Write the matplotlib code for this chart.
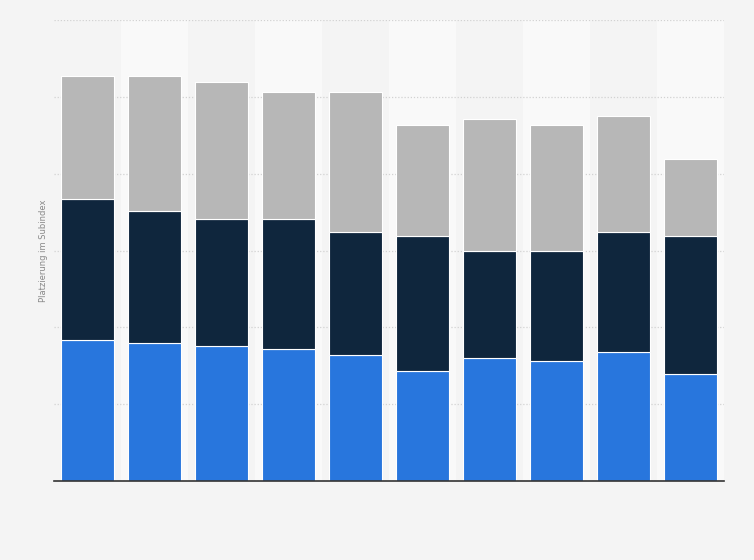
import matplotlib.pyplot as plt
import numpy as np

# keine Beschriftungen im Bild sichtbar, daher nur Platzhalter
categories = ["1", "2", "3", "4", "5", "6", "7", "8", "9", "10"]
blue = [36.6, 35.8, 35.1, 34.3, 32.7, 28.6, 31.9, 31.2, 33.5, 27.8]
navy = [36.9, 34.6, 33.0, 33.8, 32.0, 35.3, 28.1, 28.8, 31.2, 36.1]
gray = [31.9, 35.0, 35.7, 33.1, 36.5, 28.8, 34.2, 32.7, 30.3, 19.9]
yticks = [0, 20, 40, 60, 80, 100, 120]

fig = plt.figure(figsize=(7.54, 5.6), dpi=100)
fig.patch.set_facecolor("#f4f4f4")
ax = fig.add_axes([54/754, 79/560, 670/754, 461/560])
ax.set_facecolor("#f4f4f4")

x = np.arange(len(categories))
# helle Streifen hinter jeder zweiten Kategorie
for i in x:
    if i % 2 == 1:
        ax.axvspan(i - 0.5, i + 0.5, color="#f9f9f9", zorder=0, lw=0)

b = np.array(blue)
n = np.array(navy)
g = np.array(gray)
w = 0.78
ax.bar(x, b, w, color="#2876dd", edgecolor="white", linewidth=0.8, zorder=3)
ax.bar(x, n, w, bottom=b, color="#0f263d", edgecolor="white", linewidth=0.8, zorder=3)
ax.bar(x, g, w, bottom=b + n, color="#b7b7b7", edgecolor="white", linewidth=0.8, zorder=3)

ax.set_xlim(-0.5, len(categories) - 0.5)
ax.set_ylim(0, 120)
ax.set_yticks(yticks)
ax.set_xticks(x)
ax.set_xticklabels([])
ax.set_yticklabels([])
ax.tick_params(length=0)
ax.grid(axis="y", color="#d2d2d2", linestyle=(0, (1, 1.5)), linewidth=0.9, zorder=1)
for s in ["top", "right", "left"]:
    ax.spines[s].set_visible(False)
ax.spines["bottom"].set_color("#333333")
ax.spines["bottom"].set_linewidth(1.2)
ax.spines["bottom"].set_zorder(4)

ax.set_ylabel("Platzierung im Subindex", fontsize=6, color="#888888", labelpad=1)

fig.savefig("out.png", dpi=100, facecolor=fig.get_facecolor())
